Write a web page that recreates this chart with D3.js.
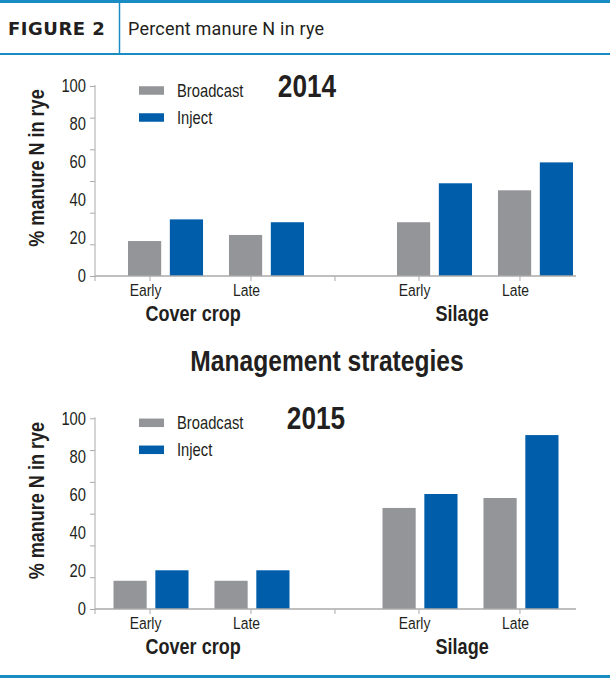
<!DOCTYPE html>
<html>
<head>
<meta charset="utf-8">
<script src="https://cdnjs.cloudflare.com/ajax/libs/d3/7.8.5/d3.min.js"></script>
<style>
  body { margin: 0; background: #fff; }
  svg { display: block; }
  .narrow { font-family: "Liberation Sans", Arial, sans-serif; fill: #231f20; }
</style>
</head>
<body>
<div id="chart"></div>
<script>
// data
const groups = ["Cover crop", "Silage"];
const timings = ["Early", "Late"];
const methods = ["Broadcast", "Inject"];
const yLabels = [0, 20, 40, 60, 80, 100];

// order: cover early, cover late, silage early, silage late
const broadcast2014 = [18.4, 21.6, 28.3, 45.1];
const inject2014 = [29.8, 28.3, 48.8, 59.8];
const broadcast2015 = [14.8, 14.8, 53.0, 58.2];
const inject2015 = [20.3, 20.3, 60.3, 91.2];

const colors = {Broadcast: "#939598", Inject: "#005daa"};
const lineBlue = "#1a8cc4";
const axisGrey = "#aaaaaa";
const sx = 0.82; // squeeze to get a condensed face

const width = 610, height = 680;

const svg = d3.select("#chart").append("svg")
    .attr("width", width)
    .attr("height", height);

// places narrow text at x,y
function at(x, y, rot) {
    return "translate(" + x + "," + y + ")" + (rot ? " rotate(" + rot + ")" : "") + " scale(" + sx + ",1)";
}

// header
svg.append("line").attr("x1", 0).attr("x2", width).attr("y1", 1.5).attr("y2", 1.5)
    .attr("stroke", lineBlue).attr("stroke-width", 3);
svg.append("line").attr("x1", 0).attr("x2", width).attr("y1", 54).attr("y2", 54)
    .attr("stroke", lineBlue).attr("stroke-width", 2);
svg.append("line").attr("x1", 119.5).attr("x2", 119.5).attr("y1", 3).attr("y2", 53)
    .attr("stroke", lineBlue).attr("stroke-width", 1.5);
svg.append("text")
    .attr("x", 8).attr("y", 35)
    .attr("font-family", "DejaVu Sans, sans-serif")
    .attr("font-weight", "bold")
    .attr("font-size", 18)
    .attr("letter-spacing", 0.5)
    .attr("fill", "#231f20")
    .text("FIGURE 2");
svg.append("text")
    .attr("x", 128).attr("y", 35)
    .attr("font-family", "Roboto, sans-serif")
    .attr("font-size", 18)
    .attr("letter-spacing", 0.2)
    .attr("fill", "#231f20")
    .text("Percent manure N in rye");

// bottom rule
svg.append("line").attr("x1", 0).attr("x2", width).attr("y1", 676.5).attr("y2", 676.5)
    .attr("stroke", lineBlue).attr("stroke-width", 3);

svg.append("text")
    .attr("class", "narrow")
    .attr("transform", at(327, 371))
    .attr("text-anchor", "middle")
    .attr("font-weight", "bold")
    .attr("font-size", 30)
    .text("Management strategies");

const panels = [
    {year: "2014", broadcast: broadcast2014, inject: inject2014, top: 86, bottom: 276, shift: 0, yearX: 307},
    {year: "2015", broadcast: broadcast2015, inject: inject2015, top: 418.3, bottom: 609, shift: -14.5, yearX: 316}
];

const axisLeft = 95, axisRight = 576;

panels.forEach(function (p) {
    let g = svg.append("g");

    let y = d3.scaleLinear().domain([0, 100]).range([p.bottom, p.top]);

    let x0 = d3.scaleBand().domain(groups)
        .range([128 + p.shift, 573 + p.shift])
        .paddingInner(0.3457);
    let x1 = d3.scaleBand().domain(timings)
        .range([0, x0.bandwidth()])
        .paddingInner(0.257);
    let x2 = d3.scaleBand().domain(methods)
        .range([0, x1.bandwidth()])
        .paddingInner(0.207);

    // tick positions are the same in both panels
    let t0 = d3.scaleBand().domain(groups).range([128, 573]).paddingInner(0.3457);

    let rows = [];
    groups.forEach(function (grp, gi) {
        timings.forEach(function (t, ti) {
            let i = gi * 2 + ti;
            rows.push({group: grp, timing: t, method: "Broadcast", value: p.broadcast[i]});
            rows.push({group: grp, timing: t, method: "Inject", value: p.inject[i]});
        });
    });

    g.selectAll("rect.bar")
        .data(rows)
        .join("rect")
        .attr("class", "bar")
        .attr("x", d => x0(d.group) + x1(d.timing) + x2(d.method))
        .attr("width", x2.bandwidth())
        .attr("y", d => y(d.value))
        .attr("height", d => y(0) - y(d.value))
        .attr("fill", d => colors[d.method]);

    // y axis: 6 tick intervals, labels every 20
    let yAxis = d3.axisLeft(y)
        .tickValues(d3.range(7).map(i => i * 100 / 6))
        .tickSize(5)
        .tickFormat("");
    let ya = g.append("g")
        .attr("transform", "translate(" + axisLeft + ",0)")
        .call(yAxis);
    ya.select(".domain").remove();
    ya.selectAll("line").attr("stroke", axisGrey).attr("stroke-width", 1);
    g.append("line")
        .attr("x1", axisLeft).attr("x2", axisLeft)
        .attr("y1", p.top - 1).attr("y2", p.bottom + 5)
        .attr("stroke", axisGrey);

    g.selectAll("text.ylab")
        .data(yLabels)
        .join("text")
        .attr("class", "ylab narrow")
        .attr("transform", d => at(86, y(d)))
        .attr("dy", "0.36em")
        .attr("text-anchor", "end")
        .attr("font-size", 18)
        .text(d => d);

    // x axis
    let tickXs = [];
    groups.forEach(grp => timings.forEach(t => tickXs.push(t0(grp) + x1(t) + 22)));
    tickXs.splice(2, 0, (tickXs[1] + tickXs[2]) / 2);

    g.append("line")
        .attr("x1", axisLeft).attr("x2", axisRight)
        .attr("y1", p.bottom).attr("y2", p.bottom)
        .attr("stroke", axisGrey).attr("stroke-width", 1.5);
    g.selectAll("line.xtick")
        .data(tickXs)
        .join("line")
        .attr("class", "xtick")
        .attr("x1", d => d).attr("x2", d => d)
        .attr("y1", p.bottom).attr("y2", p.bottom + 5)
        .attr("stroke", axisGrey);

    let tlabels = [];
    groups.forEach(grp => timings.forEach(t => tlabels.push({t: t, x: t0(grp) + x1(t) + 17.5})));
    g.selectAll("text.xlab")
        .data(tlabels)
        .join("text")
        .attr("class", "xlab narrow")
        .attr("transform", d => at(d.x, p.bottom + 20))
        .attr("text-anchor", "middle")
        .attr("font-size", 17)
        .text(d => d.t);

    g.selectAll("text.glab")
        .data(groups)
        .join("text")
        .attr("class", "glab narrow")
        .attr("transform", d => at(t0(d) + t0.bandwidth() * 0.37, p.bottom + 45))
        .attr("text-anchor", "middle")
        .attr("font-weight", "bold")
        .attr("font-size", 22)
        .text(d => d);

    // y title
    g.append("text")
        .attr("class", "narrow")
        .attr("transform", at(44, (p.top + p.bottom) / 2 - 13, -90))
        .attr("text-anchor", "middle")
        .attr("font-weight", "bold")
        .attr("font-size", 22)
        .text("% manure N in rye");

    // year
    g.append("text")
        .attr("class", "narrow")
        .attr("transform", at(p.yearX, p.top + 10.5))
        .attr("text-anchor", "middle")
        .attr("font-weight", "bold")
        .attr("font-size", 32)
        .text(p.year);

    // legend
    let leg = g.selectAll("g.leg")
        .data(methods)
        .join("g")
        .attr("class", "leg")
        .attr("transform", (d, i) => "translate(139," + (p.top + 4.5 + i * 27) + ")");
    leg.append("rect")
        .attr("x", 0).attr("y", -4.25)
        .attr("width", 25).attr("height", 8.5)
        .attr("fill", d => colors[d]);
    leg.append("text")
        .attr("class", "narrow")
        .attr("transform", at(38, 0))
        .attr("dy", "0.36em")
        .attr("font-size", 18)
        .text(d => d);
});
</script>
</body>
</html>
